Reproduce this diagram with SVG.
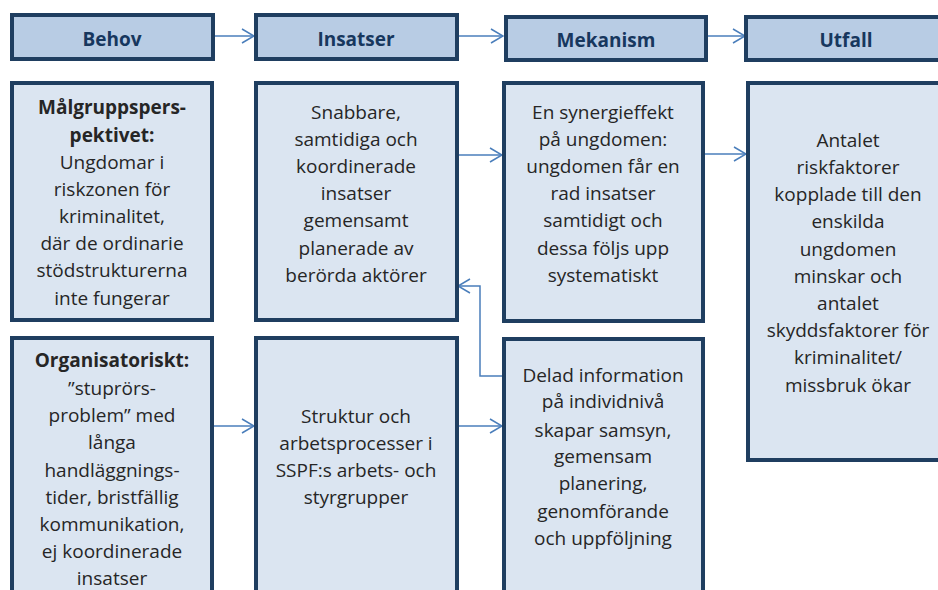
<svg xmlns="http://www.w3.org/2000/svg" width="938" height="590" viewBox="0 0 938 590">
<defs>
<style>
.hdr{fill:#b8cce4;stroke:#1f3e60;stroke-width:4}
.box{fill:#dbe5f1;stroke:#1f3e60;stroke-width:4}
.ht{font-family:"Open Sans","Liberation Sans",sans-serif;font-size:19px;font-weight:bold;fill:#17375e;text-anchor:middle}
.t{font-family:"Open Sans","Liberation Sans",sans-serif;font-size:19px;fill:#262626;text-anchor:middle}
.b{font-weight:bold}
.c{fill:none;stroke:#4a7ebb;stroke-width:1.5}
</style>
<marker id="ah" viewBox="0 0 14 16" refX="13" refY="8" markerWidth="14" markerHeight="16" markerUnits="userSpaceOnUse" orient="auto">
<path d="M1,1 L13,8 L1,15" fill="none" stroke="#4a7ebb" stroke-width="1.5"/>
</marker>
</defs>
<rect width="938" height="590" fill="#ffffff"/>
<g id="connectors">
<line class="c" x1="214" y1="36" x2="254" y2="36" marker-end="url(#ah)"/>
<line class="c" x1="459" y1="36" x2="503" y2="36" marker-end="url(#ah)"/>
<line class="c" x1="704" y1="36" x2="745" y2="36" marker-end="url(#ah)"/>
<line class="c" x1="459" y1="155" x2="502" y2="155" marker-end="url(#ah)"/>
<line class="c" x1="704" y1="154" x2="746" y2="154" marker-end="url(#ah)"/>
<line class="c" x1="214" y1="426" x2="254" y2="426" marker-end="url(#ah)"/>
<line class="c" x1="459" y1="426" x2="502" y2="426" marker-end="url(#ah)"/>
<polyline class="c" points="503,376 480,376 480,286 458,286" marker-end="url(#ah)"/>
</g>
<g id="hdr-behov"><rect class="hdr" x="12" y="15" width="201" height="44"/><text class="ht" x="112" y="46">Behov</text></g>
<g id="hdr-insatser"><rect class="hdr" x="256" y="15" width="201" height="44"/><text class="ht" x="356" y="46">Insatser</text></g>
<g id="hdr-mekanism"><rect class="hdr" x="506" y="17" width="200" height="43"/><text class="ht" x="606" y="47">Mekanism</text></g>
<g id="hdr-utfall"><rect class="hdr" x="746" y="17" width="210" height="43"/><text class="ht" x="846" y="47">Utfall</text></g>

<g id="behov-1"><rect class="box" x="12" y="83" width="200" height="237"/>
<text class="t"><tspan class="b" x="112" y="114">Målgruppspers-</tspan><tspan class="b" x="112" y="141.5">pektivet:</tspan><tspan x="112" y="168.5">Ungdomar i</tspan><tspan x="112" y="196">riskzonen för</tspan><tspan x="112" y="223">kriminalitet,</tspan><tspan x="112" y="250">där de ordinarie</tspan><tspan x="112" y="277">stödstrukturerna</tspan><tspan x="112" y="304.5">inte fungerar</tspan></text></g>

<g id="insatser-1"><rect class="box" x="256" y="83" width="201" height="237"/>
<text class="t"><tspan x="356" y="118.5">Snabbare,</tspan><tspan x="356" y="145.7">samtidiga och</tspan><tspan x="356" y="172.5">koordinerade</tspan><tspan x="356" y="200">insatser</tspan><tspan x="356" y="227">gemensamt</tspan><tspan x="356" y="255">planerade av</tspan><tspan x="356" y="282">berörda aktörer</tspan></text></g>

<g id="mekanism-1"><rect class="box" x="504" y="83" width="199" height="238"/>
<text class="t"><tspan x="603" y="118.5">En synergieffekt</tspan><tspan x="603" y="145.7">på ungdomen:</tspan><tspan x="603" y="172.5">ungdomen får en</tspan><tspan x="603" y="200">rad insatser</tspan><tspan x="603" y="227">samtidigt och</tspan><tspan x="603" y="255">dessa följs upp</tspan><tspan x="603" y="282">systematiskt</tspan></text></g>

<g id="utfall-1"><rect class="box" x="748" y="83" width="210" height="377"/>
<text class="t"><tspan x="848" y="147.3">Antalet</tspan><tspan x="848" y="174">riskfaktorer</tspan><tspan x="848" y="201">kopplade till den</tspan><tspan x="848" y="228">enskilda</tspan><tspan x="848" y="256">ungdomen</tspan><tspan x="848" y="283">minskar och</tspan><tspan x="848" y="310">antalet</tspan><tspan x="848" y="337">skyddsfaktorer för</tspan><tspan x="848" y="364">kriminalitet/</tspan><tspan x="848" y="391.5">missbruk ökar</tspan></text></g>

<g id="behov-2"><rect class="box" x="12" y="338" width="200" height="270"/>
<text class="t"><tspan class="b" x="112" y="367.3">Organisatoriskt:</tspan><tspan x="112" y="395">”stuprörs-</tspan><tspan x="112" y="421.7">problem” med</tspan><tspan x="112" y="449">långa</tspan><tspan x="112" y="476.7">handläggnings-</tspan><tspan x="112" y="503.5">tider, bristfällig</tspan><tspan x="112" y="530.7">kommunikation,</tspan><tspan x="112" y="558">ej koordinerade</tspan><tspan x="112" y="585">insatser</tspan></text></g>

<g id="insatser-2"><rect class="box" x="256" y="338" width="201" height="270"/>
<text class="t"><tspan x="356" y="422.7">Struktur och</tspan><tspan x="356" y="450">arbetsprocesser i</tspan><tspan x="356" y="476.7">SSPF:s arbets- och</tspan><tspan x="356" y="503.5">styrgrupper</tspan></text></g>

<g id="mekanism-2"><rect class="box" x="504" y="339" width="199" height="270"/>
<text class="t"><tspan x="603" y="381.7">Delad information</tspan><tspan x="603" y="408.3">på individnivå</tspan><tspan x="603" y="436.7">skapar samsyn,</tspan><tspan x="603" y="463.3">gemensam</tspan><tspan x="603" y="490">planering,</tspan><tspan x="603" y="518.3">genomförande</tspan><tspan x="603" y="545">och uppföljning</tspan></text></g>
</svg>
